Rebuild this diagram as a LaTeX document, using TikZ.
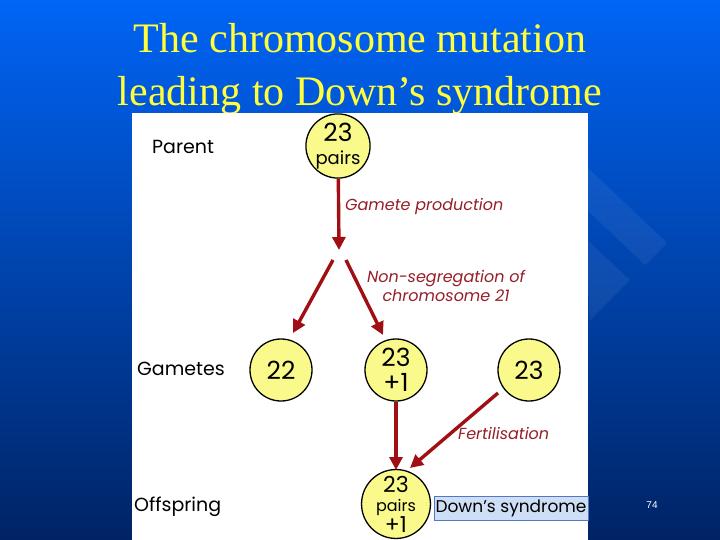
\documentclass[tikz,border=0pt]{standalone}
\usepackage{fontspec}
\setmainfont{Liberation Serif}
\newfontfamily\dia{Poppins}
\newfontfamily\arl{Liberation Sans}
\usetikzlibrary{arrows.meta}
\begin{document}
\begin{tikzpicture}[x=1pt,y=-1pt,
  circ/.style={circle,draw=black,line width=1.3pt,fill={rgb,255:red,250;green,250;blue,140},minimum size=62pt,inner sep=0pt,align=center,font=\dia\fontsize{25}{25}\selectfont},
  arr/.style={-{Triangle[length=13pt,width=13pt]},line width=3.4pt,draw={rgb,255:red,160;green,15;blue,20}},
  lab/.style={font=\dia\itshape\fontsize{16}{19}\selectfont,text={rgb,255:red,150;green,30;blue,40},inner sep=0pt},
  side/.style={font=\dia\fontsize{19}{20}\selectfont,inner sep=0pt,anchor=west}]
\shade[top color={rgb,255:red,0;green,100;blue,245},bottom color={rgb,255:red,0;green,35;blue,100}] (0,0) rectangle (720,540);
\useasboundingbox (0,0) rectangle (720,540);
\fill[white,opacity=0.06] (585,165) -- (667,243) -- (645,265) -- (585,208) -- cycle;
\fill[white,opacity=0.06] (585,238) -- (630,280) -- (590,320) -- cycle;
\node[text={rgb,255:red,255;green,255;blue,60},font=\fontsize{42}{53}\selectfont,align=center] (title) at (360,69) {The chromosome mutation\\leading to Down’s syndrome};
\fill[white] (132,113) rectangle (588,540);
\node[circ] (p) at (338,146) {23\\[-2pt]{\fontsize{18}{16}\selectfont pairs}};
\node[circ] (g1) at (281,370) {22};
\node[circ] (g2) at (396,370) {23\\+1};
\node[circ,minimum size=64pt,font=\dia\fontsize{22}{19}\selectfont] (o) at (396,504) {23\\{\fontsize{16}{17}\selectfont pairs}\\+1};
\node[circ] (g3) at (529,370) {23};
\draw[arr] (p) -- (339,250);
\draw[arr] (333,260) -- (293,333);
\draw[arr] (346,260) -- (383,335);
\draw[arr] (g2) -- (396,470);
\draw[arr] (498,393) -- (410,468);
\node[lab,anchor=west] (l1) at (345,206) {Gamete production};
\node[lab,align=center] (l2) at (446,286) {Non-segregation of\\chromosome 21};
\node[lab,anchor=west] (l3) at (458,433) {Fertilisation};
\node[side] (s1) at (152,147) {Parent};
\node[side] (s2) at (137,369) {Gametes};
\node[side] (s3) at (134,507) {Offspring};
\node[draw={rgb,255:red,80;green,120;blue,200},fill={rgb,255:red,205;green,222;blue,245},font=\dia\fontsize{17}{18}\selectfont,minimum width=154pt,minimum height=24pt,inner sep=0pt] (ds) at (511,508) {Down’s syndrome};
\node[white,font=\arl\fontsize{10}{12}\selectfont] (pg) at (652,505) {74};
\end{tikzpicture}
\end{document}
